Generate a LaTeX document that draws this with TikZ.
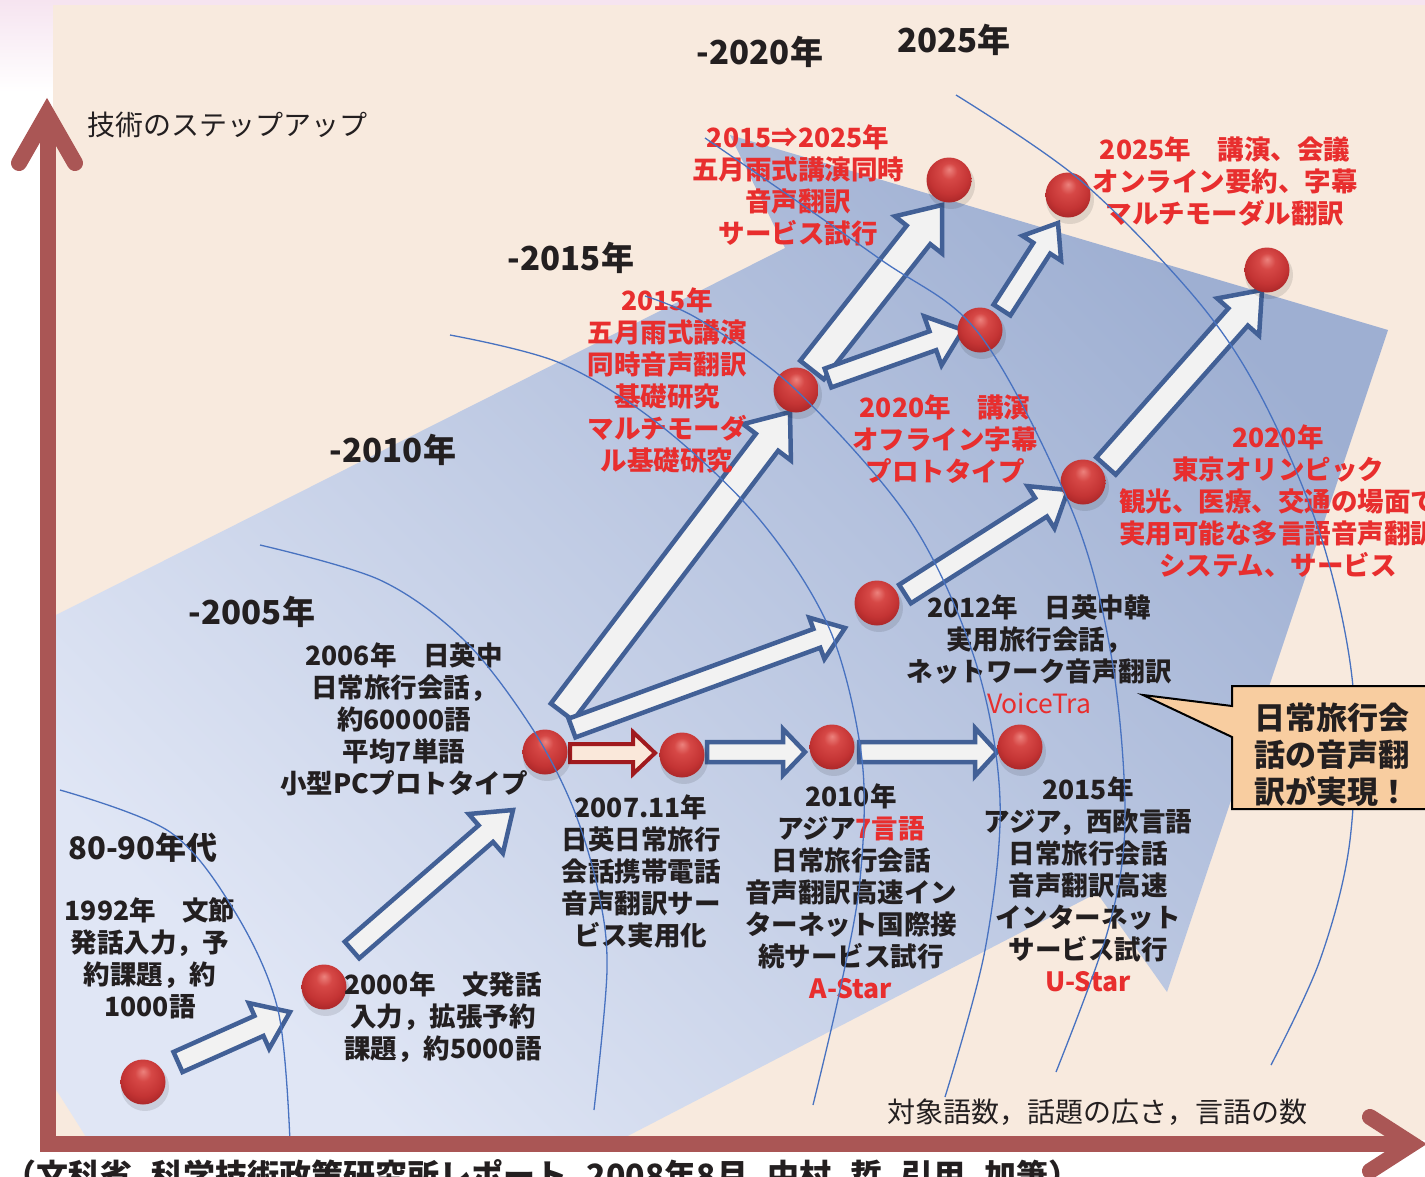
\documentclass[tikz,border=0pt]{standalone}
\usepackage{fontspec}
\newfontfamily\jp{Noto Sans CJK JP}
\usetikzlibrary{calc}
\definecolor{peach}{RGB}{248,234,222}
\definecolor{topink}{RGB}{246,228,240}
\definecolor{axisred}{RGB}{170,86,85}
\definecolor{arcblue}{RGB}{72,114,192}
\definecolor{arrowblue}{RGB}{66,96,150}
\definecolor{arrowfill}{RGB}{242,242,242}
\definecolor{txtred}{RGB}{232,46,46}
\definecolor{txtblack}{RGB}{35,31,32}
\definecolor{calloutfill}{RGB}{248,205,160}
\definecolor{bluelight}{RGB}{224,230,245}
\definecolor{bluedark}{RGB}{158,175,210}
\definecolor{darkred}{RGB}{160,26,30}
\definecolor{redarrowfill}{RGB}{250,232,218}

\pgfdeclareradialshading{redsphere}{\pgfpoint{0bp}{12bp}}{%
  color(0bp)=(rgb,255:red,236;green,130;blue,125);
  color(9bp)=(rgb,255:red,214;green,72;blue,70);
  color(22bp)=(rgb,255:red,196;green,52;blue,52);
  color(32bp)=(rgb,255:red,165;green,36;blue,38);
  color(38bp)=(rgb,255:red,120;green,22;blue,26);
  color(50bp)=(rgb,255:red,110;green,20;blue,24)}

\tikzset{
  lbl/.style={font=\jp\bfseries\fontsize{26.5}{32}\selectfont, align=center, inner sep=0pt, text=txtblack},
  redlbl/.style={lbl, font=\jp\bfseries\fontsize{26.5}{32}\selectfont, text=txtred},
  yearhead/.style={font=\jp\bfseries\fontsize{33}{40}\selectfont, inner sep=0pt, text=txtblack},
  axislbl/.style={font=\jp\fontsize{28}{34}\selectfont, inner sep=0pt, text=txtblack},
  arcline/.style={draw=arcblue, line width=1.3pt},
  barrowstyle/.style={draw=arrowblue, fill=arrowfill, line width=4.5pt, line join=miter},
  rarrowstyle/.style={draw=darkred, fill=redarrowfill, line width=4pt, line join=miter},
  redball/.style={circle, minimum size=45pt, inner sep=0pt, shading=redsphere, draw=none},
  axisline/.style={draw=axisred, line width=16pt},
}

% block arrow: [style]{start}{end}{half shaft}{half head}{head length}
\newcommand\blockarr[6][barrowstyle]{%
  \coordinate (bh) at ($(#3)!#6!(#2)$);
  \path[#1] ($(#2)!#4!90:(#3)$) -- ($(bh)!#4!-90:(#2)$) -- ($(bh)!#5!-90:(#2)$) -- (#3)
     -- ($(bh)!#5!90:(#2)$) -- ($(bh)!#4!90:(#2)$) -- ($(#2)!#4!-90:(#3)$) -- cycle;}

\begin{document}
\begin{tikzpicture}[x=1pt,y=-1pt]
\useasboundingbox (0,0) rectangle (1425,1176);
\clip (0,0) rectangle (1425,1176);
% backgrounds
\fill[white] (0,0) rectangle (1425,1176);
\fill[topink] (0,0) rectangle (1425,5);
\shade[top color=topink, bottom color=white] (0,0) rectangle (53,92);
\fill[peach] (53,5) rectangle (1425,1140);
% blue region
\shade[top color=bluedark, bottom color=bluelight, shading angle=-45]
  (50,618) -- (785,248) -- (730,135) -- (1388,330) -- (1167,992) -- (1097,893)
  -- (620,1140) -- (88,1140) -- (50,1080) -- cycle;

% arrow end coordinates
\coordinate (a1s) at (178,1062); \coordinate (a1e) at (290,1012);
\coordinate (a2s) at (352,950);  \coordinate (a2e) at (513,810);
\coordinate (a3s) at (562,712);  \coordinate (a3e) at (790,412);
\coordinate (a4s) at (572,728);  \coordinate (a4e) at (845,628);
\coordinate (a5s) at (570,753);  \coordinate (a5e) at (655,753);
\coordinate (a6s) at (707,752);  \coordinate (a6e) at (805,752);
\coordinate (a7s) at (859,752);  \coordinate (a7e) at (997,752);
\coordinate (a8s) at (905,594);  \coordinate (a8e) at (1068,490);
\coordinate (a9s) at (1106,466); \coordinate (a9e) at (1262,290);
\coordinate (a10s) at (812,370); \coordinate (a10e) at (942,205);
\coordinate (a11s) at (828,378); \coordinate (a11e) at (963,330);
\coordinate (a12s) at (1002,310);\coordinate (a12e) at (1058,223);

\blockarr{a1s}{a1e}{11pt}{25pt}{34pt}
\blockarr{a2s}{a2e}{11pt}{26pt}{36pt}
\blockarr{a3s}{a3e}{14pt}{30pt}{38pt}
\blockarr{a4s}{a4e}{10pt}{22pt}{30pt}
\blockarr[rarrowstyle]{a5s}{a5e}{9pt}{21pt}{22pt}
\blockarr{a6s}{a6e}{10pt}{23pt}{22pt}
\blockarr{a7s}{a7e}{10pt}{24pt}{22pt}
\blockarr{a8s}{a8e}{11pt}{25pt}{32pt}
\blockarr{a9s}{a9e}{13pt}{28pt}{36pt}
\blockarr{a10s}{a10e}{15pt}{30pt}{38pt}
\blockarr{a11s}{a11e}{10pt}{26pt}{32pt}
\blockarr{a12s}{a12e}{10pt}{23pt}{30pt}

% balls
\foreach \n/\x/\y in {b1/143/1082, b2/324/987, b3/545/752, b4/682/755, b5/832/747,
  b6/1020/747, b7/877/603, b8/1083/482, b9/1267/270, b10/796/390, b11/980/330,
  b12/949/180, b13/1068/195}{
  \fill[black, opacity=0.10] (\x+2,\y+5) circle (24pt);
  \node[redball] (\n) at (\x,\y) {};
}

% year headings
\node[yearhead] (h2020) at (760,52) {-2020年};
\node[yearhead] (h2025) at (954,40) {2025年};
\node[yearhead] (h2015) at (571,258) {-2015年};
\node[yearhead] (h2010) at (393,450) {-2010年};
\node[yearhead] (h2005) at (252,612) {-2005年};
\node[yearhead, font=\jp\bfseries\fontsize{31}{38}\selectfont] (h8090) at (143,848) {80-90年代};

% black labels
\node[lbl] (t1992) at (150,958) {1992年　文節\\発話入力，予\\約課題，約\\1000語};
\node[lbl] (t2000) at (443,1017) {2000年　文発話\\入力，拡張予約\\課題，約5000語};
\node[lbl] (t2006) at (404,719) {2006年　日英中\\日常旅行会話，\\約60000語\\平均7単語\\小型PCプロトタイプ};
\node[lbl] (t2007) at (641,871) {2007.11年\\日英日常旅行\\会話携帯電話\\音声翻訳サー\\ビス実用化};
\node[lbl] (t2010) at (851,891) {2010年\\アジア\textcolor{txtred}{7言語}\\日常旅行会話\\音声翻訳高速イン\\ターネット国際接\\続サービス試行\\\textcolor{txtred}{A-Star}};
\node[lbl] (t2015b) at (1088,884) {2015年\\アジア，西欧言語\\日常旅行会話\\音声翻訳高速\\インターネット\\サービス試行\\\textcolor{txtred}{U-Star}};
\node[lbl] (t2012) at (1039,654) {2012年　日英中韓\\実用旅行会話，\\ネットワーク音声翻訳\\{\mdseries\textcolor{txtred}{VoiceTra}}};

% red labels
\node[redlbl] (r1) at (798,185) {2015⇒2025年\\五月雨式講演同時\\音声翻訳\\サービス試行};
\node[redlbl] (r2) at (667,380) {2015年\\五月雨式講演\\同時音声翻訳\\基礎研究\\マルチモーダ\\ル基礎研究};
\node[redlbl] (r3) at (945,439) {2020年　講演\\オフライン字幕\\プロトタイプ};
\node[redlbl] (r4) at (1225,181) {2025年　講演、会議\\オンライン要約、字幕\\マルチモーダル翻訳};
\node[redlbl] (r5) at (1278,501) {2020年\\東京オリンピック\\観光、医療、交通の場面で\\実用可能な多言語音声翻訳\\システム、サービス};

% axis labels
\node[axislbl, anchor=west] (yl) at (87,125) {技術のステップアップ};
\node[axislbl] (xl) at (1097,1112) {対象語数，話題の広さ，言語の数};

% thin arcs
\draw[arcline] plot[smooth, tension=0.55] coordinates {(60,790) (170,832) (235,912) (278,1010) (290,1142)};
\draw[arcline] plot[smooth, tension=0.55] coordinates {(260,545) (380,580) (464,640) (530,725) (572,805) (598,890) (607,970) (594,1110)};
\draw[arcline] plot[smooth, tension=0.55] coordinates {(450,335) (560,363) (660,425) (760,520) (830,630) (862,760) (860,880) (840,990) (813,1105)};
\draw[arcline] plot[smooth, tension=0.55] coordinates {(645,296) (700,320) (796,390) (910,520) (975,660) (1000,800) (985,950) (945,1097)};
\draw[arcline] plot[smooth, tension=0.55] coordinates {(705,138) (877,257) (980,335) (1073,513) (1112,660) (1125,820) (1108,930) (1056,1072)};
\draw[arcline] plot[smooth, tension=0.55] coordinates {(956,95) (1080,180) (1197,300) (1263,400) (1322,540) (1353,687) (1350,840) (1320,960) (1271,1065)};

% callout
\path[draw=black, line width=2pt, fill=calloutfill, line join=miter]
  (1232,686) -- (1440,686) -- (1440,809) -- (1232,809) -- (1232,737) -- (1143,695) -- (1232,706) -- cycle;
\node[lbl, font=\jp\bfseries\fontsize{31}{37}\selectfont] (callouttext) at (1332,755) {日常旅行会\\話の音声翻\\訳が実現！};

% axes
\draw[axisline] (48,1144) -- (48,116);
\draw[axisline, line cap=round, line join=miter] (19,163) -- (47,114) -- (75,163);
\draw[axisline] (40,1144) -- (1412,1144);
\draw[axisline, line cap=round, line join=miter] (1370,1117) -- (1412,1144) -- (1370,1171);

% caption (cut off at bottom, as in the reference)
\node[font=\jp\bfseries\fontsize{32}{38}\selectfont, anchor=base west, inner sep=0pt, text=txtblack] (caption)
  at (4,1187) {（文科省\hspace{0.6em}科学技術政策研究所レポート\hspace{0.6em}2008年8月\hspace{0.6em}中村\hspace{0.6em}哲\hspace{0.6em}引用\hspace{0.6em}加筆）};
\end{tikzpicture}
\end{document}
